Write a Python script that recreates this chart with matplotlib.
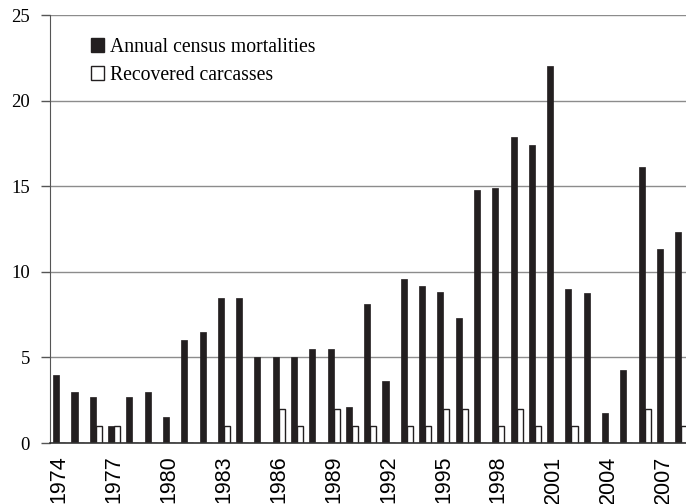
import matplotlib
matplotlib.use("Agg")
import matplotlib.pyplot as plt
import numpy as np
from matplotlib.patches import Patch

years = list(range(1974, 2009))
census = [4.0, 3.0, 2.7, 1.0, 2.7, 3.0, 1.5, 6.0, 6.5, 8.5, 8.5, 5.0, 5.0, 5.0, 5.5, 5.5,
          2.1, 8.1, 3.6, 9.6, 9.15, 8.8, 7.3, 14.8, 14.9, 17.9, 17.4, 22.0, 9.0, 8.75, 1.75,
          4.25, 16.1, 11.35, 12.35]
recovered = [0, 0, 1, 1, 0, 0, 0, 0, 0, 1, 0, 0, 2, 1, 0, 2,
             1, 1, 0, 1, 1, 2, 2, 0, 1, 2, 1, 0, 1, 0, 0,
             0, 2, 0, 1]
tick_years = list(range(1974, 2009, 3))
yticks = [0, 5, 10, 15, 20, 25]

fig = plt.figure(figsize=(6.86, 5.04), dpi=100)
ax = fig.add_axes([0.073, 0.121, 0.927, 0.849])

x = np.arange(len(years))
w = 0.33
ax.bar(x - w / 2, census, width=w, color="#231f20", edgecolor="#231f20", linewidth=0.5, zorder=3)
ax.bar(x + w / 2, recovered, width=w, color="white", edgecolor="#231f20", linewidth=1.0, zorder=3)

ax.set_xlim(-0.5, 34.26)
ax.set_ylim(0, 25)
ax.set_yticks(yticks)
ax.set_yticklabels([str(v) for v in yticks], family="Liberation Serif", fontsize=13.5)
ax.set_xticks([years.index(y) for y in tick_years])
ax.set_xticklabels([str(y) for y in tick_years], rotation=90, family="Liberation Sans", fontsize=15.5)
ax.tick_params(axis="x", length=0, pad=9)
ax.tick_params(axis="y", length=6.5, width=1, color="#555555", direction="out", pad=8)

ax.grid(axis="y", color="#8c8c8c", linewidth=1.0, zorder=0)
for s in ["top", "right"]:
    ax.spines[s].set_visible(False)
ax.spines["left"].set_color("#555555")
ax.spines["bottom"].set_color("#333333")
ax.spines["bottom"].set_linewidth(1.2)
ax.spines["bottom"].set_zorder(4)

handles = [Patch(facecolor="#231f20", edgecolor="#231f20", label="Annual census mortalities"),
           Patch(facecolor="white", edgecolor="#231f20", linewidth=1.0, label="Recovered carcasses")]
ax.legend(handles=handles, loc="upper left", bbox_to_anchor=(0.052, 0.965), frameon=False,
          prop={"family": "Liberation Serif", "size": 14.2}, handlelength=0.65, handleheight=0.65,
          handletextpad=0.3, labelspacing=0.45, borderaxespad=0)

fig.savefig("out.png", dpi=100)
